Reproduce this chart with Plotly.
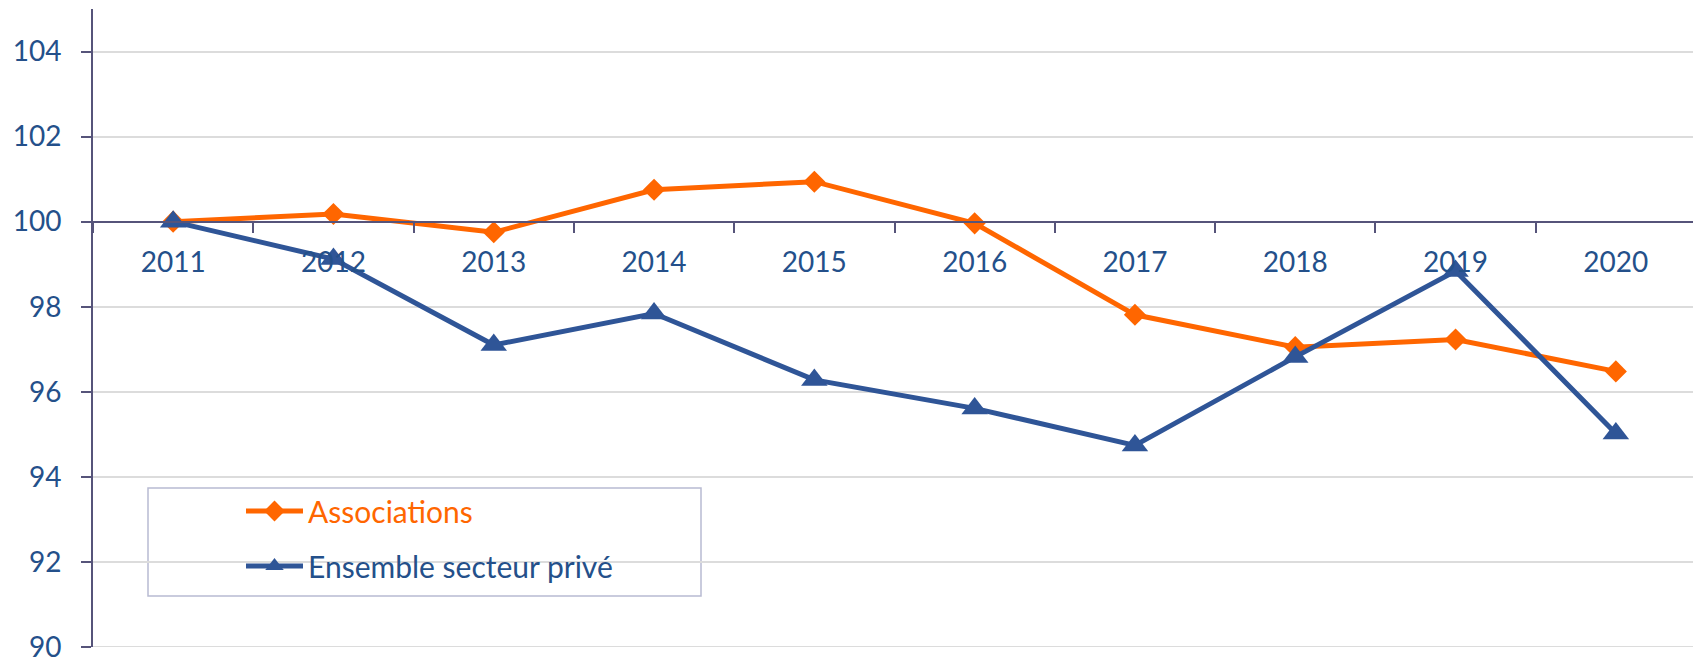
import plotly.graph_objects as go

years = ["2011", "2012", "2013", "2014", "2015", "2016", "2017", "2018", "2019", "2020"]
associations = [100.0, 100.18, 99.75, 100.75, 100.94, 99.96, 97.81, 97.05, 97.23, 96.48]
ensemble_prive = [100.0, 99.12, 97.10, 97.84, 96.28, 95.61, 94.74, 96.82, 98.84, 95.02]

ORANGE = "#FF6600"
BLUE = "#2F5597"
TEXT_BLUE = "#24508A"
AXIS = "#56547A"
GRID = "#DCDCDC"
FONT = "Lato"

# page body has an 8px default margin; size the figure so the plot area
# lands where it is in the 1701x661 window
OFF = 8
PAGE_W, PAGE_H = 1701, 661
W, H = PAGE_W - OFF, PAGE_H - OFF
PL, PT, PR, PB = 93, 9, 1696, 647  # plot area in page pixels
L, T = PL - OFF, PT - OFF
R, B = PAGE_W - PR, PAGE_H - PB
pw, ph = PR - PL, PB - PT


def px(x):
    return (x - PL) / pw


def py(y):
    return (PB - y) / ph


fig = go.Figure()
fig.add_trace(go.Scatter(
    x=years, y=associations, mode="lines+markers",
    name=f'<span style="color:{ORANGE}">Associations</span>',
    line=dict(color=ORANGE, width=5),
    marker=dict(symbol="diamond", size=17, color=ORANGE),
    legendgroup="a",
))
fig.add_trace(go.Scatter(
    x=years, y=ensemble_prive, mode="lines+markers",
    name=f'<span style="color:{TEXT_BLUE}">Ensemble secteur privé</span>',
    line=dict(color=BLUE, width=5),
    marker=dict(symbol="triangle-up", size=23, color=BLUE),
    legendgroup="b",
))

ymin, ymax = 90, 105
fig.update_layout(
    width=W, height=H,
    margin=dict(l=L, r=R, t=T, b=B, autoexpand=False),
    paper_bgcolor="white", plot_bgcolor="white",
    font=dict(family=FONT, size=28, color=TEXT_BLUE),
    showlegend=True,
    legend=dict(
        x=px(241), y=py(485), xanchor="left", yanchor="top",
        bgcolor="rgba(0,0,0,0)", borderwidth=0,
        font=dict(family=FONT, size=30, color=TEXT_BLUE),
        traceorder="grouped", tracegroupgap=13, itemwidth=57,
    ),
    xaxis=dict(
        type="category", range=[-0.5, 9.5], automargin=False,
        anchor="free", position=(100 - ymin) / (ymax - ymin), side="bottom",
        showline=True, linecolor=AXIS, linewidth=2,
        ticks="outside", ticklen=10, tickwidth=1.5, tickcolor=AXIS,
        tickson="boundaries", showgrid=False, zeroline=False,
        tickfont=dict(family=FONT, size=28, color=TEXT_BLUE),
        ticklabelstandoff=16,
    ),
    yaxis=dict(
        range=[ymin, ymax], automargin=False,
        showline=True, linecolor=AXIS, linewidth=2,
        ticks="outside", ticklen=10, tickwidth=1.5, tickcolor=AXIS,
        showgrid=True, gridcolor=GRID, gridwidth=2, zeroline=False,
        tickfont=dict(family=FONT, size=28, color=TEXT_BLUE),
        ticklabelstandoff=14, ticklabeloverflow="allow",
        tickvals=[90, 92, 94, 96, 98, 100, 102, 104],
    ),
    shapes=[
        dict(
            type="line", xref="paper", yref="y",
            x0=0, x1=1, y0=ymin, y1=ymin,
            line=dict(color=GRID, width=2), layer="below",
        ),
        dict(
            type="rect", xref="paper", yref="paper",
            x0=px(148), x1=px(701), y0=py(596), y1=py(488),
            line=dict(color="#B8BBD2", width=1.5), fillcolor="white",
            layer="between",
        ),
    ],
)

fig.write_html("out.html")
